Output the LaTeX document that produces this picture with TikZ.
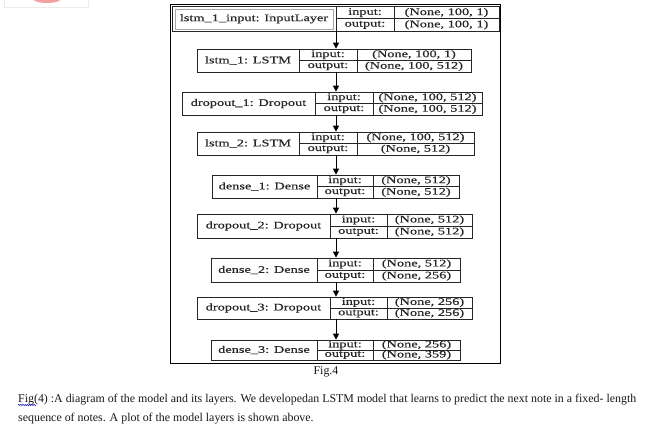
\documentclass[tikz,border=0pt]{standalone}
\usepackage{fontspec}
\setmainfont{Liberation Serif}
\newfontfamily\diagfont[FakeStretch=1.42,FakeBold=0.4]{Liberation Serif}
\usetikzlibrary{arrows.meta,decorations.pathmorphing}
\definecolor{pinkish}{RGB}{245,160,160}
\tikzset{
  cellbox/.style={draw=black!85, line width=0.7pt, inner sep=0pt,
    font=\diagfont\fontsize{10.1}{11}\selectfont, text=black!85},
  flowarrow/.style={draw=black, line width=0.9pt, -{Triangle[width=6pt,length=6pt]}},
  captext/.style={inner sep=0pt, font=\fontsize{11.9}{13}\selectfont, text=black!90},
  framebox/.style={draw=black, line width=1pt},
}
\newcommand\layerblock[9]{\def\lbid{#1}\def\lbxa{#2}\def\lbxb{#3}\def\lbxc{#4}\def\lbxd{#5}\def\lbyt{#6}\def\lbyb{#7}\def\lblab{#8}\def\lbin{#9}\layerblockfinish}
\newcommand\layerblockfinish[1]{%
  \pgfmathsetmacro\lbym{(\lbyt+\lbyb)/2}%
  \node[cellbox, minimum width={(\lbxb-\lbxa)*1pt}, minimum height={(\lbyb-\lbyt)*1pt}] (\lbid) at ({(\lbxa+\lbxb)/2},\lbym) {\lblab};
  \node[cellbox, minimum width={(\lbxc-\lbxb)*1pt}, minimum height={(\lbym-\lbyt)*1pt}] (\lbid-il) at ({(\lbxb+\lbxc)/2},{(\lbyt+\lbym)/2}) {input:};
  \node[cellbox, minimum width={(\lbxc-\lbxb)*1pt}, minimum height={(\lbyb-\lbym)*1pt}] (\lbid-ol) at ({(\lbxb+\lbxc)/2},{(\lbym+\lbyb)/2}) {output:};
  \node[cellbox, minimum width={(\lbxd-\lbxc)*1pt}, minimum height={(\lbym-\lbyt)*1pt}] (\lbid-iv) at ({(\lbxc+\lbxd)/2},{(\lbyt+\lbym)/2}) {\lbin};
  \node[cellbox, minimum width={(\lbxd-\lbxc)*1pt}, minimum height={(\lbyb-\lbym)*1pt}] (\lbid-ov) at ({(\lbxc+\lbxd)/2},{(\lbym+\lbyb)/2}) {#1};
}
\begin{document}
\begin{tikzpicture}[x=1pt,y=-1pt]
\useasboundingbox (0,0) rectangle (657,428);
\fill[white] (0,0) rectangle (657,428);
% top-left remnant
\draw[black!8, line width=0.8pt] (4,-1) -- (4,7) -- (88,7) -- (88,-1);
\fill[pinkish] (47,-2) ellipse [x radius=15pt, y radius=5pt];
% frame
\draw[framebox] (170.5,4.5) rectangle (500.5,363);
% layers
\layerblock{b1}{172}{336}{394}{499}{6.5}{31}{lstm\_1\_input: InputLayer}{(None, 100, 1)}{(None, 100, 1)}
\draw[gray!70, line width=0.8pt] (175,9.5) rectangle (333,29);
\layerblock{b2}{197}{299}{357}{471}{49}{72}{lstm\_1: LSTM}{(None, 100, 1)}{(None, 100, 512)}
\layerblock{b3}{182}{315}{373}{482}{92}{115}{dropout\_1: Dropout}{(None, 100, 512)}{(None, 100, 512)}
\layerblock{b4}{197}{299}{357}{474}{132}{155}{lstm\_2: LSTM}{(None, 100, 512)}{(None, 512)}
\layerblock{b5}{212}{317}{373}{459}{175}{198}{dense\_1: Dense}{(None, 512)}{(None, 512)}
\layerblock{b6}{197}{330}{387}{472}{214}{238}{dropout\_2: Dropout}{(None, 512)}{(None, 512)}
\layerblock{b7}{211}{317}{373}{460}{258}{282}{dense\_2: Dense}{(None, 512)}{(None, 256)}
\layerblock{b8}{197}{330}{387}{472}{297}{319}{dropout\_3: Dropout}{(None, 256)}{(None, 256)}
\layerblock{b9}{211}{317}{373}{460}{340}{360}{dense\_3: Dense}{(None, 256)}{(None, 359)}
% arrows
\coordinate (ax) at (336,0);
\foreach \a/\b in {b1/b2,b2/b3,b3/b4,b4/b5,b5/b6,b6/b7,b7/b8,b8/b9}
  \draw[flowarrow] (\a.south -| ax) -- (\b.north -| ax);
% captions
\node[captext] (figlabel) at (326,371.5) {Fig.4};
\node[captext, anchor=base west] (cap1) at (18,402) {Fig(4) :A diagram of the model and its layers. We developedan LSTM model that learns to predict the next note in a fixed- length};
\node[captext, anchor=base west] (cap2) at (18,421) {sequence of notes. A plot of the model layers is shown above.};
\draw[blue!75!black, line width=0.5pt, decorate, decoration={snake,amplitude=0.6pt,segment length=2.2pt}] (18,405) -- (36,405);
\end{tikzpicture}
\end{document}
